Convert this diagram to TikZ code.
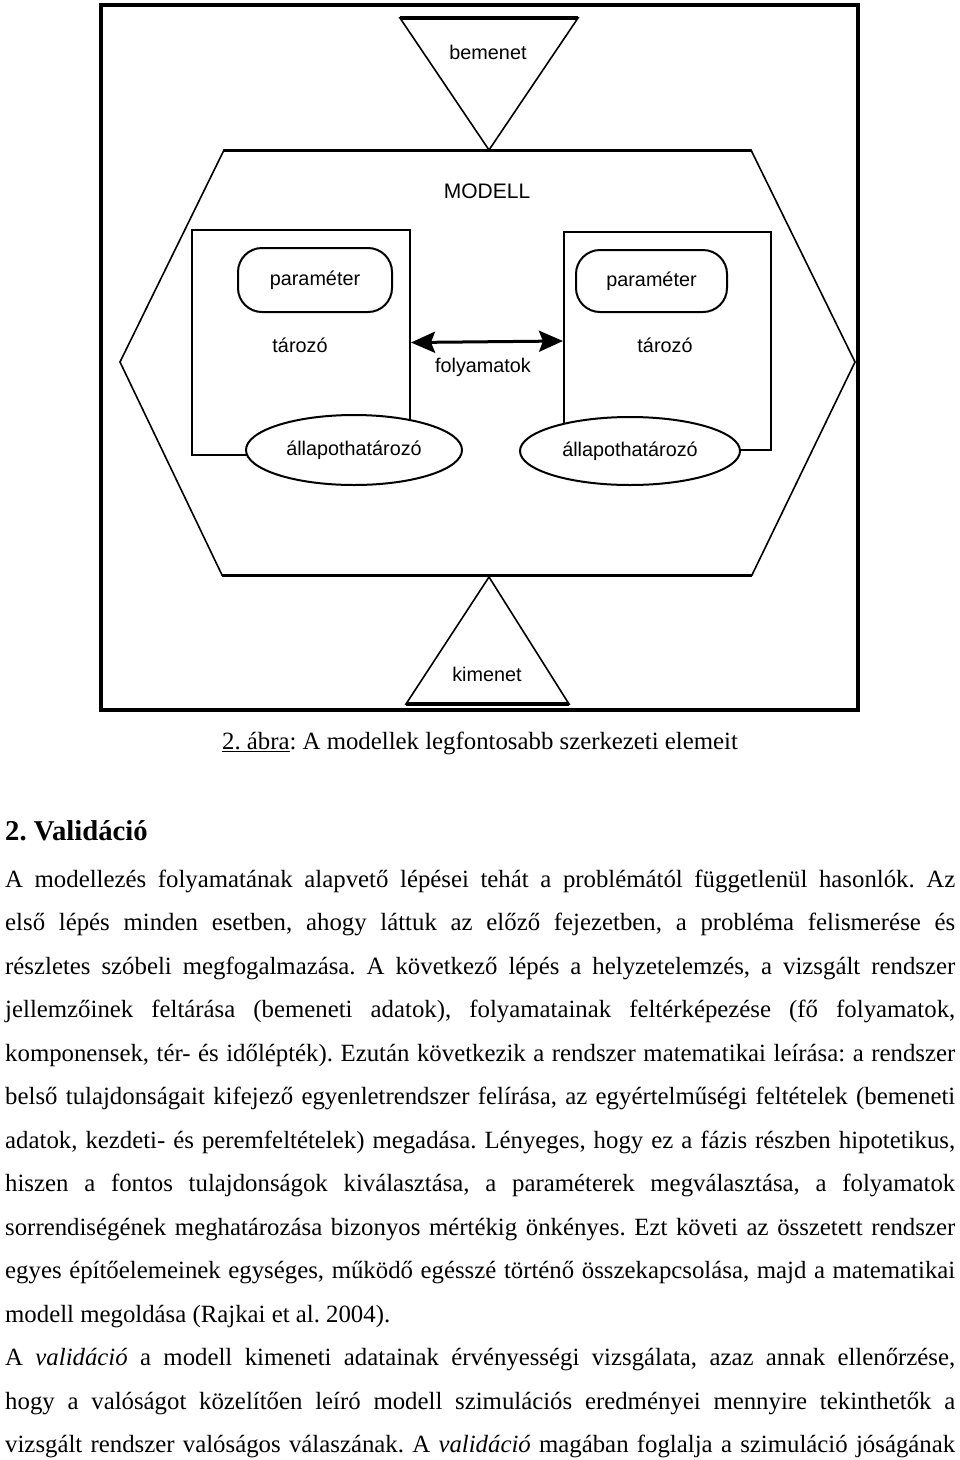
\documentclass[tikz,border=0pt]{standalone}
\usepackage{fontspec}
\setmainfont{Liberation Serif}
\newfontfamily\diagfont{Liberation Sans}
\usetikzlibrary{shapes.geometric,arrows.meta}
\frenchspacing
\tikzset{
  shp/.style={line width=1.6pt, line join=miter},
  thickedge/.style={line width=3pt},
  lbl/.style={font=\diagfont\fontsize{19.8}{22}\selectfont, inner sep=0pt},
  storebox/.style={draw, line width=2pt, inner sep=0pt},
  parambox/.style={draw, line width=2pt, rounded corners=24pt, inner sep=0pt, font=\diagfont\fontsize{19.8}{22}\selectfont},
  stateell/.style={draw, ellipse, line width=2pt, fill=white, inner sep=0pt, font=\diagfont\fontsize{19.8}{22}\selectfont},
  bodyline/.style={anchor=base west, inner sep=0pt, font=\fontsize{24.8}{30}\selectfont},
  procarrow/.style={line width=3pt, {Stealth[length=24pt,width=21pt,inset=4pt]}-{Stealth[length=24pt,width=21pt,inset=4pt]}},
}
\newcommand{\jline}[1]{\makebox[950pt][s]{#1}}
\begin{document}
\begin{tikzpicture}[x=1pt,y=-1pt]
\useasboundingbox[fill=white] (0,0) rectangle (960,1460);

% outer frame
\draw[line width=3.5pt] (101,5) rectangle (858,710);

% hexagon (MODELL)
\coordinate (h1) at (224,150);
\coordinate (h2) at (751,150);
\coordinate (h3) at (855,362);
\coordinate (h4) at (752,575);
\coordinate (h5) at (222,575);
\coordinate (h6) at (120,362);
\draw[shp] (h1) -- (h2) -- (h3) -- (h4) -- (h5) -- (h6) -- cycle;
\draw[thickedge] (h1) -- (h2);
\draw[thickedge] (h5) -- (h4);

% input triangle
\coordinate (b1) at (400,18);
\coordinate (b2) at (578,18);
\coordinate (b3) at (489,150);
\draw[shp] (b1) -- (b2) -- (b3) -- cycle;
\draw[line width=3.5pt] (b1) -- (b2);
\node[lbl] (bemenet) at (488,52) {bemenet};

% output triangle
\coordinate (k1) at (489,577);
\coordinate (k2) at (569,704);
\coordinate (k3) at (406,704);
\draw[shp] (k1) -- (k2) -- (k3) -- cycle;
\draw[line width=3.5pt] (k2) -- (k3);
\node[lbl] (kimenet) at (487,674) {kimenet};

\node[font=\diagfont\fontsize{21}{24}\selectfont, inner sep=0pt] (modell) at (487,191) {MODELL};

% storage boxes
\node[storebox, minimum width=218pt, minimum height=225pt] (lbox) at (301,342.5) {};
\node[storebox, minimum width=207pt, minimum height=218pt] (rbox) at (667.5,341) {};

\node[parambox, minimum width=154pt, minimum height=64pt] (lpar) at (315,280) {paraméter};
\node[parambox, minimum width=151pt, minimum height=62pt] (rpar) at (651.5,281) {paraméter};

\node[lbl] (ltaro) at (300,345) {tározó};
\node[lbl] (rtaro) at (665,345) {tározó};

\node[stateell, minimum width=216pt, minimum height=70pt] (lell) at (354,450) {állapothatározó};
\node[stateell, minimum width=220pt, minimum height=68pt] (rell) at (630,451) {állapothatározó};

% process arrow
\draw[procarrow] (lbox.east) -- (rbox.west);
\node[lbl] (folyam) at (483,367) {folyamatok};

% caption and heading
\node[anchor=base, inner sep=0pt, font=\fontsize{24.8}{30}\selectfont] (caption) at (480,749) {\underline{2. ábra}: A modellek legfontosabb szerkezeti elemeit};
\node[anchor=base west, inner sep=0pt, font=\bfseries\fontsize{28.7}{34}\selectfont] (heading) at (5,840) {2. Validáció};

% body text
\node[bodyline] (l1) at (5,887) {\jline{A modellezés folyamatának alapvető lépései tehát a problémától függetlenül hasonlók. Az}};
\node[bodyline] (l2) at (5,930.5) {\jline{első lépés minden esetben, ahogy láttuk az előző fejezetben, a probléma felismerése és}};
\node[bodyline] (l3) at (5,974) {\jline{részletes szóbeli megfogalmazása. A következő lépés a helyzetelemzés, a vizsgált rendszer}};
\node[bodyline] (l4) at (5,1017.5) {\jline{jellemzőinek feltárása (bemeneti adatok), folyamatainak feltérképezése (fő folyamatok,}};
\node[bodyline] (l5) at (5,1061) {\jline{komponensek, tér- és időlépték). Ezután következik a rendszer matematikai leírása: a rendszer}};
\node[bodyline] (l6) at (5,1104.5) {\jline{belső tulajdonságait kifejező egyenletrendszer felírása, az egyértelműségi feltételek (bemeneti}};
\node[bodyline] (l7) at (5,1148) {\jline{adatok, kezdeti- és peremfeltételek) megadása. Lényeges, hogy ez a fázis részben hipotetikus,}};
\node[bodyline] (l8) at (5,1191.5) {\jline{hiszen a fontos tulajdonságok kiválasztása, a paraméterek megválasztása, a folyamatok}};
\node[bodyline] (l9) at (5,1235) {\jline{sorrendiségének meghatározása bizonyos mértékig önkényes. Ezt követi az összetett rendszer}};
\node[bodyline] (l10) at (5,1278.5) {\jline{egyes építőelemeinek egységes, működő egésszé történő összekapcsolása, majd a matematikai}};
\node[bodyline] (l11) at (5,1322) {modell megoldása (Rajkai et al. 2004).};
\node[bodyline] (l12) at (5,1365.5) {\jline{A \textit{validáció} a modell kimeneti adatainak érvényességi vizsgálata, azaz annak ellenőrzése,}};
\node[bodyline] (l13) at (5,1409) {\jline{hogy a valóságot közelítően leíró modell szimulációs eredményei mennyire tekinthetők a}};
\node[bodyline] (l14) at (5,1452.5) {\jline{vizsgált rendszer valóságos válaszának. A \textit{validáció} magában foglalja a szimuláció jóságának}};
\end{tikzpicture}
\end{document}
